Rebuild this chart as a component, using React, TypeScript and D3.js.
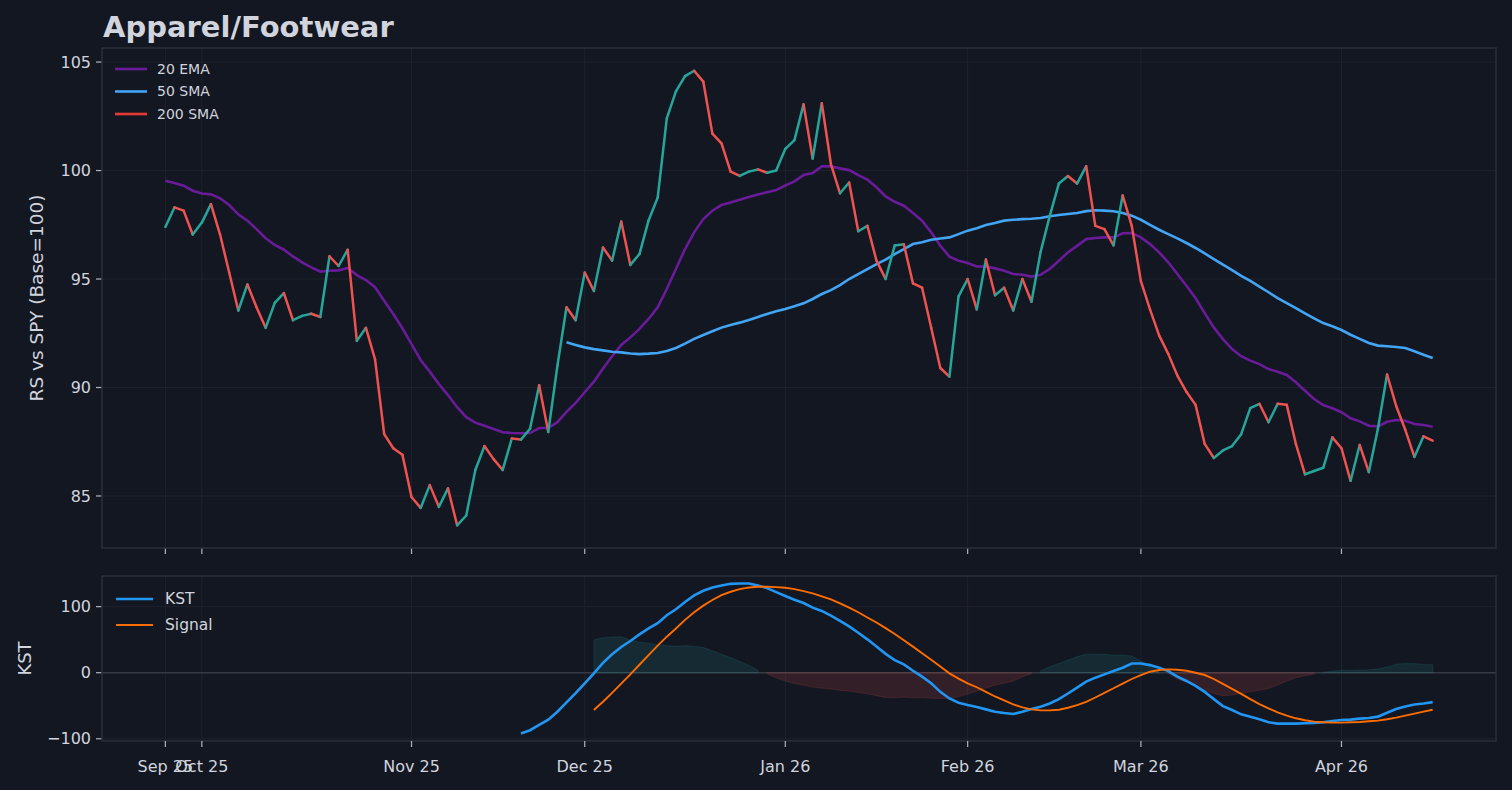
import * as d3 from "d3";

// month starts on the trading-day index axis
const monthIdx = [0, 4, 27, 46, 68, 88, 107, 129];
const monthLabels = ["Sep 25", "Oct 25", "Nov 25", "Dec 25", "Jan 26", "Feb 26", "Mar 26", "Apr 26"];

// relative strength vs SPY, one value per trading day
const rsClose = [
  97.4, 98.3, 98.15, 97.05, 97.6, 98.45, 97.05, 95.3, 93.55, 94.75,
  93.7, 92.75, 93.9, 94.35, 93.1, 93.3, 93.4, 93.25, 96.05, 95.6,
  96.35, 92.15, 92.75, 91.3, 87.85, 87.2, 86.9, 84.95, 84.45, 85.5,
  84.5, 85.35, 83.65, 84.1, 86.2, 87.3, 86.7, 86.2, 87.65, 87.6,
  88.1, 90.1, 87.95, 91.0, 93.7, 93.1, 95.3, 94.45, 96.45, 95.85,
  97.65, 95.65, 96.15, 97.7, 98.75, 102.4, 103.65, 104.35, 104.6, 104.1,
  101.7, 101.25, 99.95, 99.75, 99.95, 100.05, 99.9, 100.0, 101.0, 101.4,
  103.05, 100.55, 103.1, 100.3, 98.95, 99.45, 97.2, 97.45, 95.85, 95.0,
  96.55, 96.6, 94.8, 94.6, 92.75, 90.9, 90.5, 94.2, 95.0, 93.6,
  95.9, 94.25, 94.6, 93.55, 95.0, 93.95, 96.25, 97.9, 99.4, 99.75,
  99.4, 100.2, 97.45, 97.3, 96.55, 98.85, 97.45, 94.9, 93.6, 92.4,
  91.55, 90.55, 89.8, 89.2, 87.4, 86.75, 87.1, 87.3, 87.85, 89.05,
  89.25, 88.4, 89.25, 89.2, 87.4, 86.0, 86.15, 86.3, 87.7, 87.2,
  85.7, 87.35, 86.1, 88.1, 90.6, 89.15, 88.05, 86.8, 87.75, 87.55,
];

const ema20 = [
  99.53, 99.42, 99.3, 99.07, 98.94, 98.9, 98.72, 98.41, 97.98, 97.69,
  97.3, 96.88, 96.57, 96.35, 96.04, 95.77, 95.54, 95.34, 95.38, 95.4,
  95.51, 95.18, 94.95, 94.62, 94.0, 93.39, 92.73, 92.0, 91.27, 90.73,
  90.16, 89.65, 89.09, 88.63, 88.38, 88.24, 88.09, 87.94, 87.9, 87.89,
  87.9, 88.13, 88.13, 88.4, 88.88, 89.29, 89.78, 90.27, 90.88, 91.44,
  91.96, 92.31, 92.7, 93.16, 93.7, 94.54, 95.46, 96.38, 97.15, 97.76,
  98.15, 98.41, 98.53, 98.65, 98.78, 98.9, 99.0, 99.1, 99.31, 99.5,
  99.79, 99.88, 100.19, 100.19, 100.1, 100.02, 99.79, 99.58, 99.23, 98.81,
  98.56, 98.38, 98.04, 97.69, 97.15, 96.53, 96.03, 95.84, 95.74, 95.58,
  95.58, 95.49, 95.38, 95.23, 95.2, 95.11, 95.2, 95.46, 95.84, 96.23,
  96.53, 96.84, 96.89, 96.92, 96.92, 97.11, 97.12, 96.92, 96.61, 96.23,
  95.77, 95.23, 94.69, 94.11, 93.43, 92.77, 92.23, 91.77, 91.44, 91.24,
  91.08, 90.85, 90.73, 90.58, 90.24, 89.85, 89.47, 89.19, 89.04, 88.86,
  88.58, 88.44, 88.24, 88.21, 88.42, 88.5, 88.47, 88.32, 88.27, 88.19,
];

const sma50Start = 44;
const sma50 = [
  92.08, 91.96, 91.85, 91.77, 91.71, 91.65, 91.62, 91.57, 91.54, 91.56,
  91.59, 91.68, 91.82, 92.02, 92.24, 92.42, 92.59, 92.76, 92.88, 92.99,
  93.11, 93.25, 93.39, 93.51, 93.62, 93.74, 93.88, 94.08, 94.31, 94.49,
  94.72, 95.0, 95.23, 95.46, 95.69, 95.89, 96.15, 96.38, 96.61, 96.69,
  96.81, 96.87, 96.92, 97.07, 97.23, 97.34, 97.49, 97.58, 97.69, 97.73,
  97.76, 97.78, 97.81, 97.89, 97.95, 98.0, 98.04, 98.13, 98.17, 98.15,
  98.12, 98.04, 97.92, 97.73, 97.5, 97.27, 97.07, 96.87, 96.66, 96.43,
  96.18, 95.92, 95.66, 95.41, 95.15, 94.91, 94.65, 94.39, 94.12, 93.89,
  93.66, 93.42, 93.19, 92.97, 92.82, 92.65, 92.43, 92.24, 92.05, 91.93,
  91.9, 91.87, 91.82, 91.67, 91.51, 91.36,
];

const kstStart = 39;
const kst = [
  -92, -87, -79, -71, -59, -45, -31, -16, -1, 15,
  28, 39, 48, 58, 67, 75, 87, 96, 107, 117,
  124, 129, 132, 134.5, 135, 135, 132, 128, 122, 116,
  110.5, 105.5, 98.5, 93.5, 86.5, 78.5, 70, 60.5, 50.5, 39.5,
  28.5, 19, 12.5, 3, -6, -16, -29, -39, -45.5, -49,
  -52, -55.5, -59, -61, -62.5, -59, -55, -51.5, -46.5, -40,
  -31.5, -22.5, -13.5, -7.5, -2.5, 2.5, 7.5, 14, 14, 11.5,
  7.5, 2.5, -6, -12.5, -20, -29, -40, -50.5, -56.5, -63,
  -66.5, -70.5, -75, -77, -77, -77, -76.5, -76, -75, -73,
  -71.5, -71, -69.5, -68.5, -66.5, -60.5, -55, -51, -48, -46.5,
  -44.5,
];

const signalStart = 47;
const signal = [
  -56.5, -44, -30.5, -16.5, -2.5, 12, 26.5, 41, 54.5, 67,
  80, 91.5, 101.5, 110, 117.5, 122.5, 126.5, 129, 130, 130,
  129.5, 128.5, 126.5, 123.5, 120, 115.5, 111, 105, 98.5, 91.5,
  83.5, 76, 67.5, 58.5, 49, 39.5, 29.5, 19.5, 9.5, -1,
  -9, -16, -22, -29, -36, -42, -48, -52.5, -55.5, -57,
  -57, -56, -53, -49, -44, -37.5, -30.5, -23.5, -16.5, -9.5,
  -3.5, 1.5, 4, 5, 4.5, 3, 0, -3.5, -9.5, -17,
  -24.5, -32, -40, -47.5, -54, -60, -65, -69, -72, -74,
  -75, -75.5, -75.5, -75, -74.5, -73.5, -72.5, -70.5, -68, -65,
  -62, -59, -56,
];

const histStart = 47;
const hist = [
  49.5, 53, 54, 54.5, 49, 46, 45, 42, 41, 40,
  41, 40, 38, 33, 28, 23, 17, 11, 4, -1.5,
  -7.6, -12.6, -16.2, -18.7, -21.7, -23.2, -24.7, -26.8, -27.8, -29.8,
  -31.8, -34.8, -37.4, -37.9, -36.9, -37.9, -37.9, -38.4, -38.9, -38.9,
  -36.4, -32, -28, -23, -19, -16, -12.6, -6, -1.5, 3,
  9, 14, 19, 24, 28, 28, 27.8, 26.8, 26.8, 25.3,
  17.7, 9, 2.5, -1, -9.6, -14.6, -19.7, -26.3, -31.3, -34.8,
  -33.8, -31.3, -28.8, -26.3, -23.7, -18.7, -12.6, -7.6, -4.5, -2,
  0.5, 2.5, 3.5, 3.5, 4, 4.5, 5.5, 8.6, 12.6, 14,
  13.6, 12.6, 12.1,
];

const bg = "#131722";
const txt = "#d1d4dc";
const spine = "#2a2e39";
const gridC = "#1e222d";
const font = "DejaVu Sans";

const upC = "#26a69a";
const downC = "#ef5350";
const emaC = "#6a1b9a";
const smaC = "#42a5f5";
const sma200C = "#e53935";
const kstC = "#2196f3";
const sigC = "#ff6d00";

const L = 102;
const R = 1496;
const main = { top: 48, bottom: 548 };
const low = { top: 576, bottom: 741 };

const padded = (vals: number[]): [number, number] => {
  const [lo, hi] = d3.extent(vals) as [number, number];
  const p = (hi - lo) * 0.05;
  return [lo - p, hi + p];
};

const App = () => {
  const n = rsClose.length;
  const x = d3.scaleLinear().domain([-(n - 1) * 0.05, (n - 1) * 1.05]).range([L, R]);
  const y = d3
    .scaleLinear()
    .domain(padded([...rsClose, ...ema20, ...sma50]))
    .range([main.bottom, main.top]);
  const yk = d3
    .scaleLinear()
    .domain(padded([...kst, ...signal, ...hist]))
    .range([low.bottom, low.top]);

  const line = (start: number, ys: d3.ScaleLinear<number, number>) =>
    d3
      .line<number>()
      .x((_, i) => x(i + start))
      .y((d) => ys(d));

  // fill_between style runs: contiguous indices with the same sign
  const runs: { pos: boolean; pts: [number, number][] }[] = [];
  hist.forEach((v, i) => {
    const pos = v >= 0;
    const last = runs[runs.length - 1];
    if (last && last.pos === pos) last.pts.push([i + histStart, v]);
    else runs.push({ pos, pts: [[i + histStart, v]] });
  });
  const area = d3
    .area<[number, number]>()
    .x((d) => x(d[0]))
    .y0(yk(0))
    .y1((d) => yk(d[1]));

  const yTicks = [85, 90, 95, 100, 105];
  const kTicks = [-100, 0, 100];

  const xGrid = (top: number, bottom: number) =>
    monthIdx.map((m) => (
      <line key={"g" + m} x1={x(m)} x2={x(m)} y1={top} y2={bottom} stroke={gridC} strokeWidth={1} />
    ));
  const xTickMarks = (bottom: number) =>
    monthIdx.map((m) => (
      <line key={"t" + m} x1={x(m)} x2={x(m)} y1={bottom} y2={bottom + 6} stroke="#b2b5be" strokeWidth={1.2} />
    ));

  return (
    <div style={{ position: "absolute", left: 0, top: 0 }}>
      <svg width={1512} height={790} style={{ display: "block", background: bg }} fontFamily={font}>
        <rect width={1512} height={790} fill={bg} />

        <text x={103} y={37} fill={txt} fontSize={29} fontWeight="bold">
          Apparel/Footwear
        </text>

        {/* main panel */}
        <g>
          {xGrid(main.top, main.bottom)}
          {yTicks.map((t) => (
            <g key={t}>
              <line x1={L} x2={R} y1={y(t)} y2={y(t)} stroke={gridC} strokeWidth={1} />
              <line x1={L - 6} x2={L} y1={y(t)} y2={y(t)} stroke="#b2b5be" strokeWidth={1.2} />
              <text x={L - 11} y={y(t)} dy="0.35em" textAnchor="end" fill={txt} fontSize={16}>
                {t}
              </text>
            </g>
          ))}
          {xTickMarks(main.bottom)}

          <path d={line(0, y)(ema20)!} fill="none" stroke={emaC} strokeWidth={2.6} />
          <path d={line(sma50Start, y)(sma50)!} fill="none" stroke={smaC} strokeWidth={2.6} />
          {rsClose.slice(1).map((v, i) => (
            <line
              key={i}
              x1={x(i)}
              y1={y(rsClose[i])}
              x2={x(i + 1)}
              y2={y(v)}
              stroke={v > rsClose[i] ? upC : downC}
              strokeWidth={2.5}
              strokeLinecap="round"
            />
          ))}

          <rect x={L} y={main.top} width={R - L} height={main.bottom - main.top} fill="none" stroke={spine} strokeWidth={1.6} />

          {[
            { label: "20 EMA", c: emaC },
            { label: "50 SMA", c: smaC },
            { label: "200 SMA", c: sma200C },
          ].map((d, i) => (
            <g key={d.label} transform={`translate(0,${69 + i * 22.5})`}>
              <line x1={115} x2={147} y1={0} y2={0} stroke={d.c} strokeWidth={2.6} />
              <text x={157} y={0} dy="0.35em" fill={txt} fontSize={14}>
                {d.label}
              </text>
            </g>
          ))}

          <text
            transform={`translate(43,${(main.top + main.bottom) / 2}) rotate(-90)`}
            textAnchor="middle"
            fill={txt}
            fontSize={18.5}
          >
            RS vs SPY (Base=100)
          </text>
        </g>

        {/* KST panel */}
        <g>
          {xGrid(low.top, low.bottom)}
          {kTicks.map((t) => (
            <g key={t}>
              <line x1={L} x2={R} y1={yk(t)} y2={yk(t)} stroke={gridC} strokeWidth={1} />
              <line x1={L - 6} x2={L} y1={yk(t)} y2={yk(t)} stroke="#b2b5be" strokeWidth={1.2} />
              <text x={L - 11} y={yk(t)} dy="0.35em" textAnchor="end" fill={txt} fontSize={16}>
                {t < 0 ? "\u2212" + Math.abs(t) : t}
              </text>
            </g>
          ))}
          <line x1={L} x2={R} y1={yk(0)} y2={yk(0)} stroke="#363a45" strokeWidth={1.6} />

          {runs.map((r, i) => (
            <path
              key={i}
              d={area(r.pts)!}
              fill={r.pos ? "rgba(38,166,154,0.14)" : "rgba(239,83,80,0.14)"}
              stroke={r.pos ? "rgba(38,166,154,0.14)" : "rgba(239,83,80,0.14)"}
              strokeWidth={1.2}
            />
          ))}

          <path d={line(kstStart, yk)(kst)!} fill="none" stroke={kstC} strokeWidth={2.6} />
          <path d={line(signalStart, yk)(signal)!} fill="none" stroke={sigC} strokeWidth={1.9} />

          <rect x={L} y={low.top} width={R - L} height={low.bottom - low.top} fill="none" stroke={spine} strokeWidth={1.6} />
          {xTickMarks(low.bottom)}
          {monthIdx.map((m, i) => (
            <text key={m} x={x(m)} y={772} textAnchor="middle" fill={txt} fontSize={16}>
              {monthLabels[i]}
            </text>
          ))}

          {[
            { label: "KST", c: kstC, w: 2.6 },
            { label: "Signal", c: sigC, w: 1.9 },
          ].map((d, i) => (
            <g key={d.label} transform={`translate(0,${599 + i * 26})`}>
              <line x1={116} x2={153} y1={0} y2={0} stroke={d.c} strokeWidth={d.w} />
              <text x={165} y={0} dy="0.35em" fill={txt} fontSize={15.5}>
                {d.label}
              </text>
            </g>
          ))}

          <text
            transform={`translate(31,${(low.top + low.bottom) / 2}) rotate(-90)`}
            textAnchor="middle"
            fill={txt}
            fontSize={18}
          >
            KST
          </text>
        </g>
      </svg>
    </div>
  );
};

export default App;
